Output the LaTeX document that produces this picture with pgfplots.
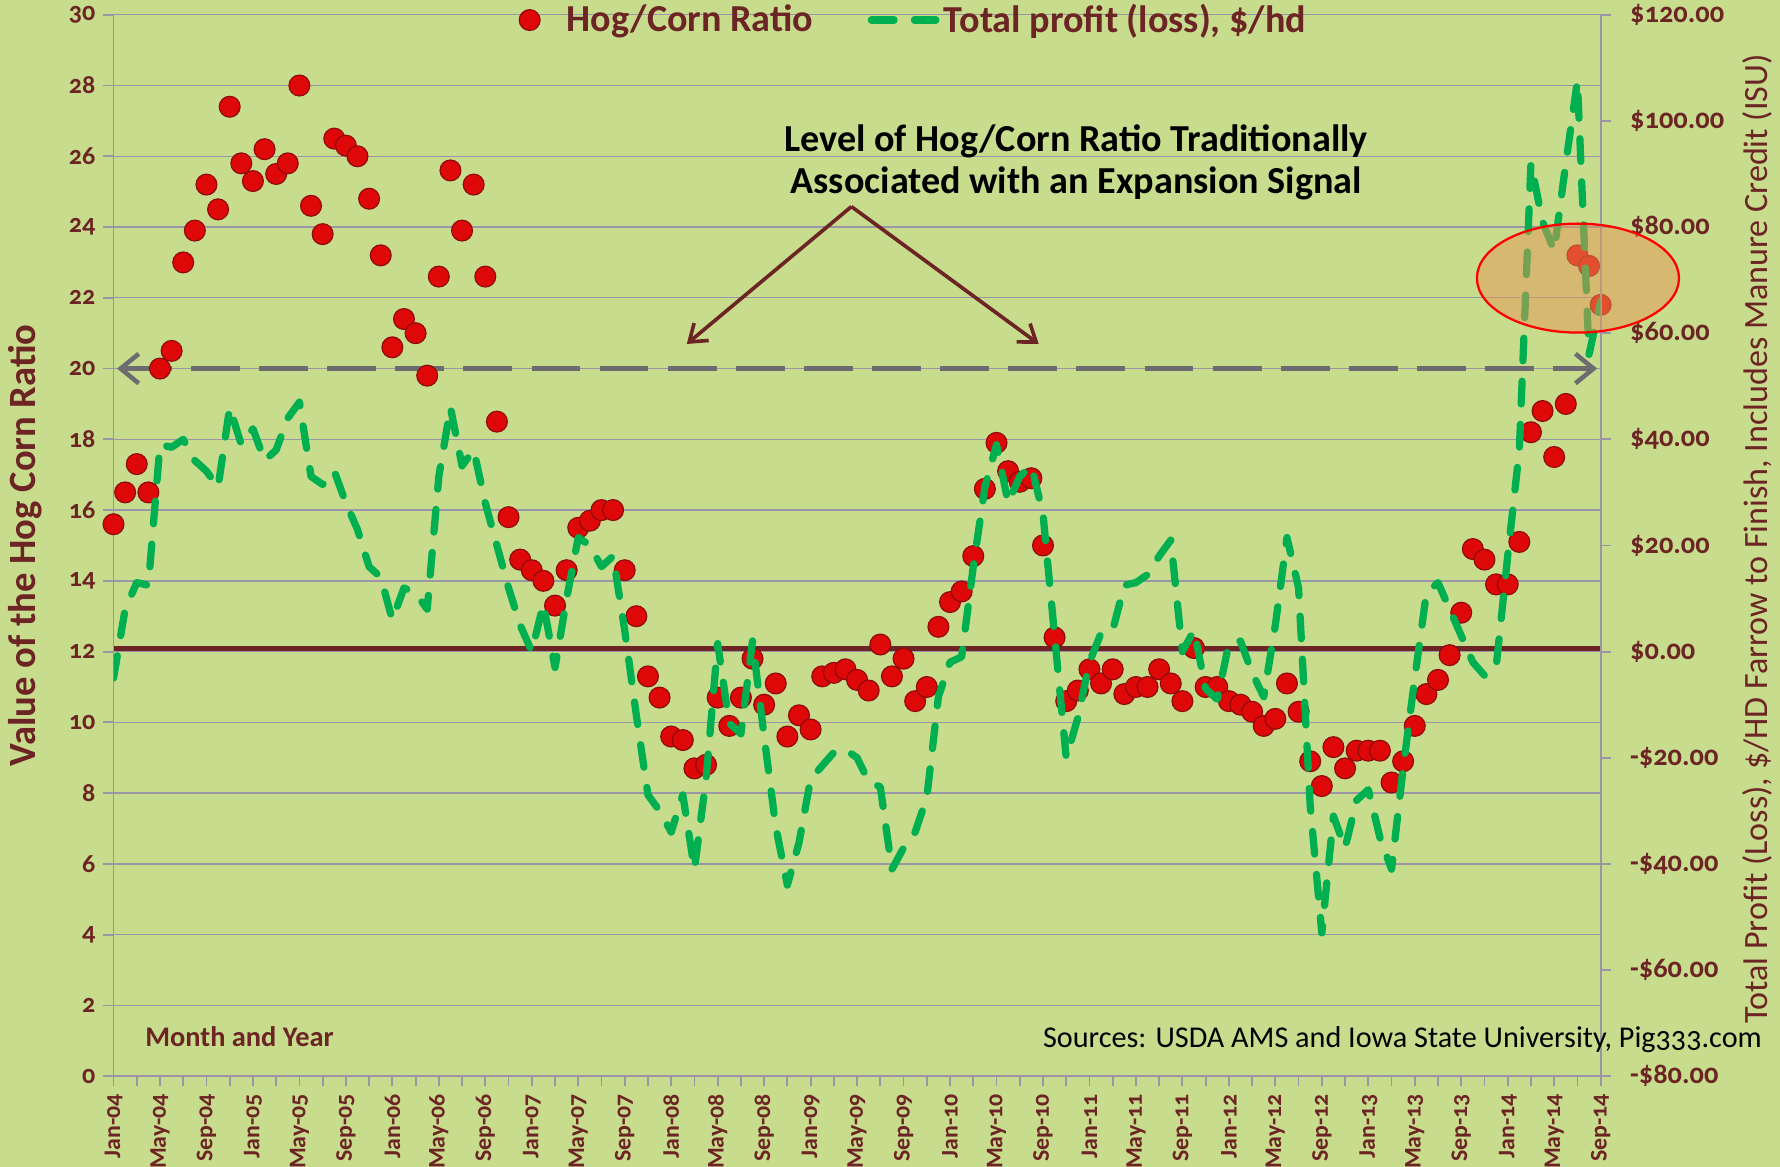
\documentclass[border=0pt]{standalone}
\usepackage{fontspec}
\setmainfont{Carlito}
\newfontfamily\tickfont{Carlito}[Numbers=OldStyle]
\usepackage{pgfplots}
\pgfplotsset{compat=1.18}
\usetikzlibrary{arrows.meta}
\definecolor{bg}{RGB}{199,220,141}
\definecolor{brn}{RGB}{108,36,36}
\definecolor{grn}{RGB}{0,176,80}
\definecolor{dotred}{RGB}{222,8,8}
\definecolor{dotedge}{RGB}{140,10,10}
\definecolor{gridc}{RGB}{155,150,165}
\definecolor{dgray}{RGB}{108,108,112}
\definecolor{ellfill}{RGB}{232,150,85}

\pgfplotsset{
  ratiolegimg/.style={legend image code/.code={\path[draw=none,fill=none] (0pt,0pt) -- (19pt,0pt); \draw[##1] plot coordinates {(4.6pt,0pt)};}},
  linelegimg/.style={legend image code/.code={\draw[##1] (1.6pt,0pt) -- (30pt,0pt);}},
}

\pgfplotstableread{
m v
0 15.6
1 16.5
2 17.3
3 16.5
4 20.0
5 20.5
6 23.0
7 23.9
8 25.2
9 24.5
10 27.4
11 25.8
12 25.3
13 26.2
14 25.5
15 25.8
16 28.0
17 24.6
18 23.8
19 26.5
20 26.3
21 26.0
22 24.8
23 23.2
24 20.6
25 21.4
26 21.0
27 19.8
28 22.6
29 25.6
30 23.9
31 25.2
32 22.6
33 18.5
34 15.8
35 14.6
36 14.3
37 14.0
38 13.3
39 14.3
40 15.5
41 15.7
42 16.0
43 16.0
44 14.3
45 13.0
46 11.3
47 10.7
48 9.6
49 9.5
50 8.7
51 8.8
52 10.7
53 9.9
54 10.7
55 11.8
56 10.5
57 11.1
58 9.6
59 10.2
60 9.8
61 11.3
62 11.4
63 11.5
64 11.2
65 10.9
66 12.2
67 11.3
68 11.8
69 10.6
70 11.0
71 12.7
72 13.4
73 13.7
74 14.7
75 16.6
76 17.9
77 17.1
78 16.8
79 16.9
80 15.0
81 12.4
82 10.6
83 10.9
84 11.5
85 11.1
86 11.5
87 10.8
88 11.0
89 11.0
90 11.5
91 11.1
92 10.6
93 12.1
94 11.0
95 11.0
96 10.6
97 10.5
98 10.3
99 9.9
100 10.1
101 11.1
102 10.3
103 8.9
104 8.2
105 9.3
106 8.7
107 9.2
108 9.2
109 9.2
110 8.3
111 8.9
112 9.9
113 10.8
114 11.2
115 11.9
116 13.1
117 14.9
118 14.6
119 13.9
120 13.9
121 15.1
122 18.2
123 18.8
124 17.5
125 19.0
126 23.2
127 22.9
128 21.8
}\ratiotable

\pgfplotstableread{
m p
0 -5
1 8
2 13
3 12.5
4 39
5 38.5
6 40
7 36
8 34
9 31
10 46
11 39
12 42
13 36
14 38
15 44
16 47
17 33
18 31.5
19 34
20 28
21 23
22 16
23 14
24 6
25 12
26 11
27 8
28 33
29 46
30 35
31 38
32 28
33 20
34 12
35 5
36 0
37 9
38 -3
39 10
40 21.5
41 20
42 16
43 18
44 4
45 -12
46 -27
47 -30
48 -34
49 -27
50 -41
51 -24
52 1.5
53 -13.5
54 -15.5
55 2
56 -16
57 -33
58 -44
59 -36
60 -24
61 -21.5
62 -19
63 -18.5
64 -20
65 -24.5
66 -25.5
67 -41
68 -37
69 -34
70 -27.5
71 -8.5
72 -2
73 -1
74 16
75 31
76 39
77 28
78 33
79 35
80 26
81 3
82 -20
83 -12.5
84 -2
85 3.5
86 4
87 12.5
88 13
89 14.5
90 18
91 21
92 0
93 4
94 -7
95 -9
96 1.5
97 2
98 -4
99 -8.5
100 5
101 21.5
102 12
103 -29
104 -53
105 -31
106 -37
107 -28
108 -26
109 -35
110 -41
111 -22
112 -5
113 11
114 13
115 8
116 3
117 -2
118 -4.5
119 -3
120 18
121 38
122 92
123 81
124 75.5
125 92
126 107.5
127 56
128 66
}\profittable

\begin{document}
\begin{tikzpicture}
\fill[bg] (-50pt,-40pt) rectangle (734pt,474pt);
\useasboundingbox (-50pt,-40pt) rectangle (734pt,474pt);

\begin{axis}[
  at={(0pt,0pt)}, anchor=south west,
  width=655pt, height=467.5pt, scale only axis,
  xmin=0, xmax=128, ymin=0, ymax=30,
  axis x line*=bottom, axis y line*=left,
  axis line style={-, draw=gridc, line width=0.8pt},
  ytick={0,2,...,30},
  ymajorgrids, major grid style={draw=gridc, line width=0.6pt},
  xtick={0,4,...,128}, minor xtick={2,6,...,126},
  xticklabels={Jan-04,May-04,Sep-04,Jan-05,May-05,Sep-05,Jan-06,May-06,Sep-06,Jan-07,May-07,Sep-07,Jan-08,May-08,Sep-08,Jan-09,May-09,Sep-09,Jan-10,May-10,Sep-10,Jan-11,May-11,Sep-11,Jan-12,May-12,Sep-12,Jan-13,May-13,Sep-13,Jan-14,May-14,Sep-14},
  tick align=outside, major tick length=4.5pt, minor tick length=4.5pt,
  tick style={draw=gridc, line width=0.8pt},
  /pgf/number format/assume math mode=true,
  x tick label style={rotate=90, anchor=east, font=\tickfont\bfseries\fontsize{10.5}{10.5}\selectfont, text=brn},
  y tick label style={font=\tickfont\bfseries\fontsize{11.5}{11.5}\selectfont, text=brn},
  ylabel={Value of the Hog Corn Ratio},
  ylabel style={at={(axis description cs:-0.0595,0.5)}, anchor=center, font=\bfseries\fontsize{17}{17}\selectfont, text=brn},
  clip=false,
]
\addplot[brn, line width=2.2pt] coordinates {(0,12.1) (128,12.1)};
\addplot[dgray, line width=2.2pt, dash pattern=on 21.5pt off 8.5pt,
  {Straight Barb[length=8pt,width=13pt,line width=2pt]}-{Straight Barb[length=8pt,width=13pt,line width=2pt]}] coordinates {(0.3,20) (127.7,20)};
\addplot[only marks, mark=*, mark size=4.6pt, mark options={fill=dotred, draw=dotedge, line width=0.5pt}] table[x=m, y=v] {\ratiotable};
\end{axis}

\begin{axis}[
  at={(0pt,0pt)}, anchor=south west,
  width=655pt, height=467.5pt, scale only axis,
  xmin=0, xmax=128, ymin=-80, ymax=120,
  axis x line=none, axis y line*=right,
  axis line style={-, draw=gridc, line width=0.8pt},
  ytick={-80,-60,...,120},
  yticklabels={-\$80.00,-\$60.00,-\$40.00,-\$20.00,\$0.00,\$20.00,\$40.00,\$60.00,\$80.00,\$100.00,\$120.00},
  tick align=outside, major tick length=4.5pt,
  tick style={draw=gridc, line width=0.8pt},
  y tick label style={font=\tickfont\bfseries\fontsize{12.5}{12.5}\selectfont, text=brn, anchor=west, xshift=5pt},
  ylabel={Total Profit (Loss), \$/HD Farrow to Finish, Includes Manure Credit (ISU)},
  ylabel style={at={(axis description cs:1.1053,0.506)}, anchor=center, font=\fontsize{15}{15}\selectfont, text=brn},
  legend style={at={(0.2725,0.995)}, anchor=west, draw=none, fill=none,
    font=\bfseries\fontsize{16.8}{16.8}\selectfont, text=brn, inner sep=0pt,
    /tikz/every even column/.append style={column sep=22pt}},
  legend columns=2,
  legend cell align=left,
]
\addlegendimage{only marks, mark=*, mark size=4.6pt, mark options={fill=dotred, draw=dotedge, line width=0.5pt}, ratiolegimg}
\addlegendentry{Hog/Corn Ratio}
\addplot[grn, line width=3.2pt, dash pattern=on 10pt off 9pt, line cap=round, line join=round, linelegimg] table[x=m, y=p] {\profittable};
\addlegendentry{Total profit (loss), \$/hd}
\end{axis}

% annotations
\node[align=center, text=black, font=\bfseries\fontsize{16.8}{18.5}\selectfont] at (424pt,402.5pt)
  {Level of Hog/Corn Ratio Traditionally\\Associated with an Expansion Signal};
\draw[brn, line width=1.6pt, -{Straight Barb[length=7pt,width=10pt]}] (325pt,383pt) -- (252.5pt,322.5pt);
\draw[brn, line width=1.6pt, -{Straight Barb[length=7pt,width=10pt]}] (325pt,383pt) -- (407.5pt,322.5pt);
\node[anchor=west, text=brn, font=\bfseries\fontsize{12.5}{12.5}\selectfont] at (10.5pt,17.5pt) {Month and Year};
\node[anchor=east, text=black, font=\tickfont\fontsize{13.3}{13.3}\selectfont] at (729.5pt,16pt) {Sources: USDA AMS and Iowa State University, Pig333.com};
\draw[red, line width=1pt, fill=ellfill, fill opacity=0.5] (645pt,351.5pt) ellipse [x radius=44.5pt, y radius=24pt];
\end{tikzpicture}
\end{document}
